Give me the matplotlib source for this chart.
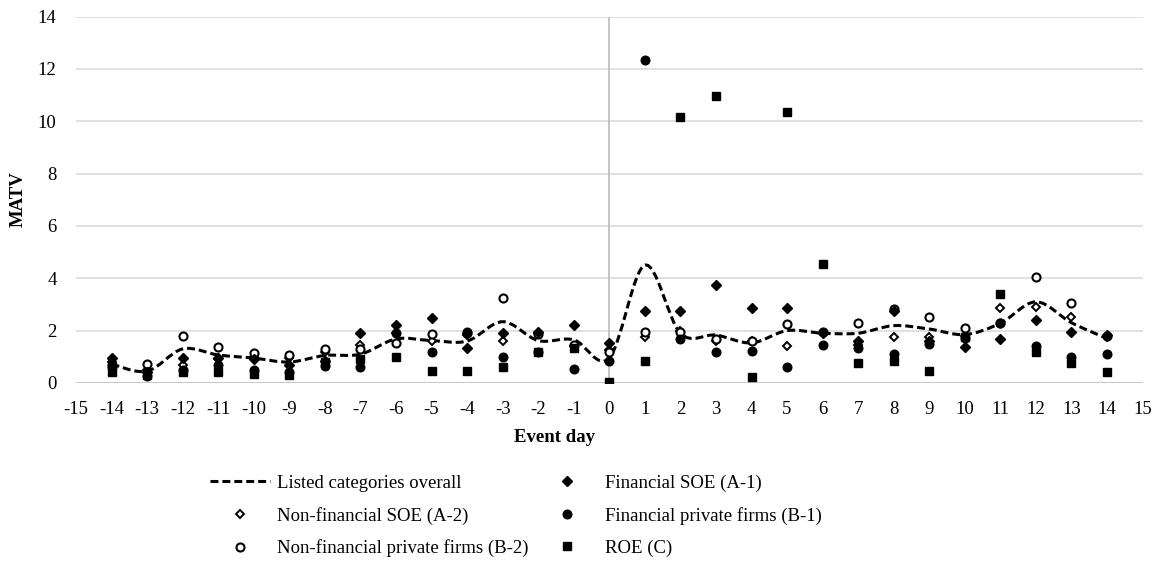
import numpy as np
import matplotlib
matplotlib.use("Agg")
import matplotlib.pyplot as plt
from matplotlib.path import Path
from matplotlib.patches import PathPatch
from matplotlib.lines import Line2D

plt.rcParams['font.family'] = ['Liberation Serif', 'DejaVu Serif']
plt.rcParams['axes.unicode_minus'] = False

days = list(range(-14, 15))
overall = [0.72, 0.45, 1.30, 1.07, 0.95, 0.80, 1.05, 1.10, 1.68, 1.62, 1.60, 2.34, 1.62, 1.65,
           0.95, 4.50, 1.90, 1.83, 1.53, 2.00, 1.90, 1.90, 2.19, 2.06, 1.85, 2.28, 3.10, 2.30, 1.70]
fin_soe = [0.95, 0.40, 0.95, 0.95, 0.90, 0.70, 0.85, 1.90, 2.22, 2.50, 1.33, 1.90, 1.95, 2.20,
           1.52, 2.75, 2.75, 3.74, 2.88, 2.88, 1.90, 1.60, 2.75, 1.60, 1.39, 1.67, 2.41, 1.94, 1.83]
nonfin_soe = [0.80, 0.50, 0.70, 0.90, 1.00, 0.95, 1.20, 1.45, 1.90, 1.60, 1.85, 1.60, 1.90, 1.40,
              1.25, 1.77, 2.00, 1.60, 1.60, 1.43, 1.90, 1.45, 1.76, 1.76, 1.80, 2.85, 2.92, 2.52, 1.75]
fin_private = [0.60, 0.28, 0.50, 0.70, 0.50, 0.40, 0.65, 0.62, 1.90, 1.19, 1.94, 1.00, 1.20, 0.55,
               0.84, 12.35, 1.67, 1.19, 1.23, 0.62, 1.45, 1.35, 1.10, 1.48, 1.70, 2.28, 1.40, 1.00, 1.11]
nonfin_private = [0.70, 0.72, 1.79, 1.39, 1.15, 1.05, 1.30, 1.30, 1.52, 1.87, 1.90, 3.26, 1.87, 1.45,
                  1.20, 1.96, 1.95, 1.68, 1.60, 2.24, 1.96, 2.30, 2.83, 2.52, 2.09, 2.28, 4.06, 3.07, 1.80]
roe = [0.40, 0.30, 0.40, 0.40, 0.35, 0.30, 0.80, 0.90, 1.00, 0.47, 0.47, 0.61, 1.18, 1.32,
       0.05, 0.84, 10.17, 10.95, 0.24, 10.36, 4.53, 0.76, 0.82, 0.47, 1.75, 3.39, 1.20, 0.76, 0.43]

fig = plt.figure(figsize=(11.6, 5.82), dpi=100)
ax = fig.add_axes([0.0655, 0.342, 0.9195, 0.6296])

# smoothed line (bezier through the points, like the spreadsheet "smoothed line")
xs = np.array(days, dtype=float)
ys = np.array(overall, dtype=float)
n = len(xs)
verts = [(xs[0], ys[0])]
codes = [Path.MOVETO]
for i in range(n - 1):
    a = i - 1 if i > 0 else i
    d = i + 2 if i + 2 < n else i + 1
    c1 = (xs[i] + (xs[i + 1] - xs[a]) / 6, ys[i] + (ys[i + 1] - ys[a]) / 6)
    c2 = (xs[i + 1] - (xs[d] - xs[i]) / 6, ys[i + 1] - (ys[d] - ys[i]) / 6)
    verts += [c1, c2, (xs[i + 1], ys[i + 1])]
    codes += [Path.CURVE4] * 3
dash = (0, (2.6, 1.3))
ax.add_patch(PathPatch(Path(verts, codes), fill=False, ec='black', lw=2.2, ls=dash, zorder=3))

ax.plot(days, nonfin_soe, ls='none', marker='D', ms=3.8, mfc='white', mec='black', mew=1.4, zorder=4)
ax.plot(days, nonfin_private, ls='none', marker='o', ms=5.8, mfc='white', mec='black', mew=1.5, zorder=4)
ax.plot(days, fin_soe, ls='none', marker='D', ms=5.0, mfc='black', mec='black', zorder=5)
ax.plot(days, fin_private, ls='none', marker='o', ms=6.2, mfc='black', mec='black', zorder=5)
ax.plot(days, roe, ls='none', marker='s', ms=6.3, mfc='black', mec='black', zorder=5)

fs = 13.5
ax.set_xlim(-15, 15)
ax.set_ylim(0, 14)
ax.set_xticks(range(-15, 16))
ax.set_yticks(range(0, 15, 2))
ax.tick_params(axis='both', length=0, labelsize=fs)
ax.tick_params(axis='x', pad=13)
ax.tick_params(axis='y', pad=14)
for s in ax.spines.values():
    s.set_visible(False)
ax.grid(axis='y', color='#d9d9d9', lw=1.1)
ax.set_axisbelow(True)
ax.axhline(0, color='#c6c6c6', lw=1.3, zorder=1)
ax.axvline(0, color='#c0c0c0', lw=1.3, zorder=1)

fig.text(0.016, 0.6575, 'MATV', rotation=90, ha='center', va='center', fontsize=fs, fontweight='bold')
fig.text(0.478, 0.248, 'Event day', ha='center', va='center', fontsize=fs, fontweight='bold')

handles = [
    Line2D([], [], color='black', lw=2.2, ls=dash),
    Line2D([], [], ls='none', marker='D', ms=3.8, mfc='white', mec='black', mew=1.4),
    Line2D([], [], ls='none', marker='o', ms=5.8, mfc='white', mec='black', mew=1.5),
    Line2D([], [], ls='none', marker='D', ms=5.0, mfc='black', mec='black'),
    Line2D([], [], ls='none', marker='o', ms=6.2, mfc='black', mec='black'),
    Line2D([], [], ls='none', marker='s', ms=6.3, mfc='black', mec='black'),
]
labels = ['Listed categories overall', 'Non-financial SOE (A-2)', 'Non-financial private firms (B-2)',
          'Financial SOE (A-1)', 'Financial private firms (B-1)', 'ROE (C)']
fig.legend(handles, labels, ncol=2, loc='upper left', bbox_to_anchor=(0.181, 0.185),
           frameon=False, fontsize=fs, handlelength=3.2, handletextpad=0.4,
           columnspacing=0.45, labelspacing=0.8, borderpad=0, borderaxespad=0)

fig.savefig('out.png', dpi=100)
